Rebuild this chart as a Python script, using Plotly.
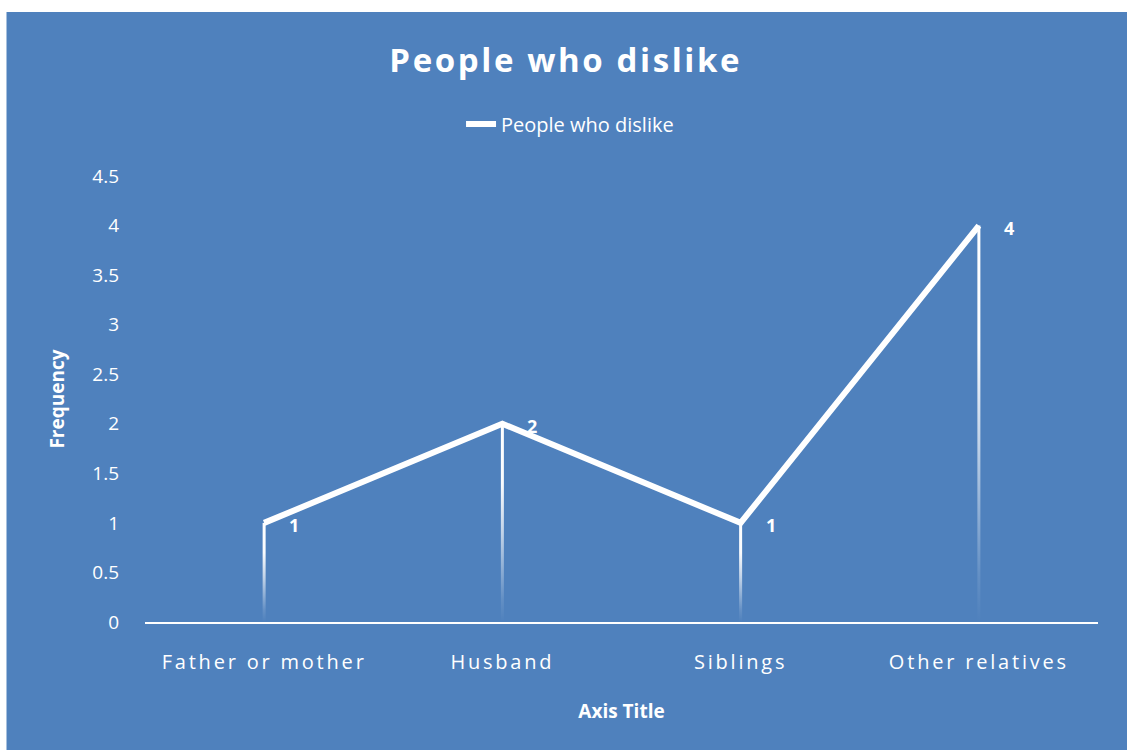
import plotly.graph_objects as go

# Data
categories = ["Father or mother", "Husband", "Siblings", "Other relatives"]
values = [1, 2, 1, 4]
series_name = "People who dislike"
y_ticks = [0, 0.5, 1, 1.5, 2, 2.5, 3, 3.5, 4, 4.5]

BLUE = "#4F81BD"
WHITE = "#FFFFFF"
FONT = "Open Sans"

W, H = 1127, 750
ML, MR, MT, MB = 145, 29, 176, 128
plot_w = W - ML - MR
plot_h = H - MT - MB

x_pos = list(range(len(categories)))

fig = go.Figure()

# Drop lines from each point to the axis, fading out toward the bottom
half_w = 1.5 / (plot_w / len(categories))
for xi, v in zip(x_pos, values):
    fig.add_trace(go.Scatter(
        x=[xi - half_w, xi + half_w, xi + half_w, xi - half_w, xi - half_w],
        y=[0, 0, v, v, 0],
        mode="lines",
        line=dict(width=0, color="rgba(0,0,0,0)"),
        fill="toself",
        fillgradient=dict(
            type="vertical",
            colorscale=[
                [0.0, "rgba(255,255,255,0)"],
                [0.12, "rgba(255,255,255,0.12)"],
                [0.45, "rgba(255,255,255,0.65)"],
                [0.7, "rgba(255,255,255,0.97)"],
                [1.0, "rgba(255,255,255,1)"],
            ],
        ),
        hoverinfo="skip",
        showlegend=False,
    ))

# Main series line
fig.add_trace(go.Scatter(
    x=x_pos,
    y=values,
    mode="lines",
    name=series_name,
    line=dict(color=WHITE, width=6),
    showlegend=True,
))

# Value labels to the right of each point
for xi, v in zip(x_pos, values):
    fig.add_annotation(
        x=xi, y=v, xref="x", yref="y",
        text=f"<b>{v}</b>",
        showarrow=False,
        xshift=30, yshift=-2,
        font=dict(family=FONT, size=18, color=WHITE),
    )

# Blue chart area background
fig.add_shape(
    type="rect", xref="paper", yref="paper", layer="below",
    x0=(6.5 - ML) / plot_w, x1=(W + 5 - ML) / plot_w,
    y0=-(MB + 10) / plot_h,
    y1=(MT + plot_h - 12) / plot_h,
    fillcolor=BLUE, line=dict(width=0),
)

fig.update_layout(
    width=W, height=H,
    margin=dict(l=ML, r=MR, t=MT, b=MB, pad=0),
    paper_bgcolor=WHITE,
    plot_bgcolor="rgba(0,0,0,0)",
    title=dict(
        text="<b>People who dislike</b>",
        x=0.502, xanchor="center",
        y=(H - 60) / H, yanchor="middle",
        font=dict(family=FONT, size=33, color=WHITE),
    ),
    legend=dict(
        orientation="h",
        x=0.446, xanchor="center",
        y=1 + (MT - 124) / plot_h, yanchor="middle",
        font=dict(family=FONT, size=20, color=WHITE),
        bgcolor="rgba(0,0,0,0)",
    ),
    showlegend=True,
    xaxis=dict(
        tickmode="array",
        tickvals=x_pos,
        ticktext=categories,
        range=[-0.5, len(categories) - 0.5],
        showgrid=False,
        zeroline=False,
        showline=True,
        linecolor=WHITE,
        linewidth=2,
        ticks="",
        ticklabelstandoff=21,
        tickfont=dict(family=FONT, size=20, color=WHITE),
        title=dict(
            text="<b>Axis Title</b>",
            font=dict(family=FONT, size=19, color=WHITE),
            standoff=31,
        ),
        fixedrange=True,
    ),
    yaxis=dict(
        range=[0, 4.5],
        tickmode="array",
        tickvals=y_ticks,
        ticktext=[f"{t:g}" for t in y_ticks],
        showgrid=False,
        zeroline=False,
        showline=False,
        ticks="",
        ticklabelstandoff=25,
        tickfont=dict(family=FONT, size=19, color=WHITE),
        title=dict(
            text="<b>Frequency</b>",
            font=dict(family=FONT, size=19, color=WHITE),
            standoff=22,
        ),
        fixedrange=True,
    ),
)

# Wider letter spacing on the title and category labels
spacing_js = """
var gd = document.getElementById('{plot_id}');
function applySpacing() {
  gd.querySelectorAll('.gtitle').forEach(function (e) { e.style.letterSpacing = '2.6px'; });
  gd.querySelectorAll('.xtick text').forEach(function (e) { e.style.letterSpacing = '2.8px'; });
}
applySpacing();
gd.on('plotly_afterplot', applySpacing);
"""

fig.write_html("out.html", post_script=spacing_js)
